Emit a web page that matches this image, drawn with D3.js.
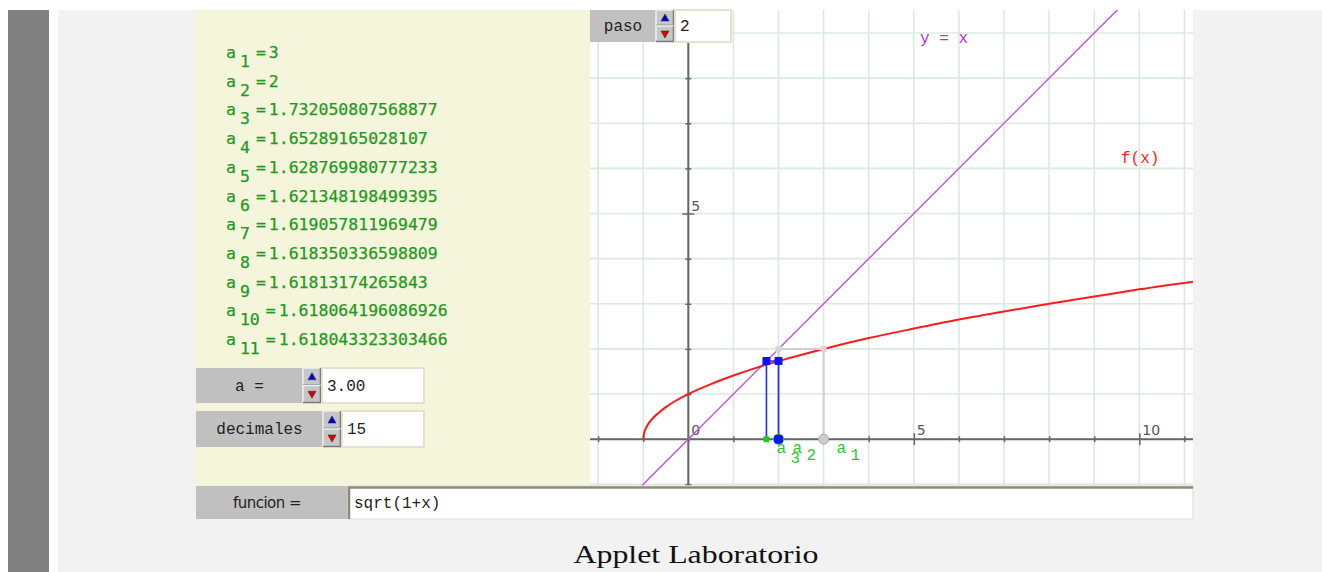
<!DOCTYPE html>
<html>
<head>
<meta charset="utf-8">
<script src="https://cdn.jsdelivr.net/npm/d3@7"></script>
<style>
  body { margin: 0; background: #fff; }
  svg { display: block; }
</style>
</head>
<body>
<div id="grafico"></div>
<script>
/**************************************************
 * Datos
***************************************************/
// sucesion a(n+1) = f(a(n)), como aparece en el panel
const indices = ["1", "2", "3", "4", "5", "6", "7", "8", "9", "10", "11"];
const valores = ["3", "2", "1.732050807568877", "1.65289165028107", "1.628769980777233",
    "1.621348198499395", "1.619057811969479", "1.618350336598809", "1.61813174265843",
    "1.618064196086926", "1.618043323303466"];

// curva f(x)
const curvaX = [-1, -0.98, -0.95, -0.9, -0.8, -0.65, -0.5, -0.3, 0, 0.5, 1, 1.5, 2, 3, 4, 5, 6, 7, 8, 9, 10, 11.2];
const curvaY = [0, 0.14, 0.22, 0.32, 0.45, 0.59, 0.71, 0.84, 1, 1.22, 1.41, 1.58, 1.73, 2, 2.24, 2.45, 2.65, 2.83, 3, 3.16, 3.32, 3.49];

// ejes
const ticksX = [-2, -1, 0, 1, 2, 3, 4, 5, 6, 7, 8, 9, 10, 11];
const ticksY = [-1, 0, 1, 2, 3, 4, 5, 6, 7, 8, 9];
const etiquetasX = [5, 10];
const etiquetasY = [5];

// controles
const paso = "2";
const valorA = "3.00";
const decimales = "15";
const funcion = "sqrt(1+x)";
const titulo = "Applet Laboratorio";

/**************************************************
 * SVG
***************************************************/
const width = 1322, height = 572;
const svg = d3.select("#grafico").append("svg")
    .attr("width", width).attr("height", height);

// fondo de la pagina
svg.append("rect").attr("x", 8).attr("y", 10).attr("width", 41).attr("height", height - 10).attr("fill", "#808080");
svg.append("rect").attr("x", 58).attr("y", 10).attr("width", width - 58).attr("height", height - 10).attr("fill", "#f2f2f2");

// panel izquierdo
svg.append("rect").attr("x", 196).attr("y", 10).attr("width", 394).attr("height", 477).attr("fill", "#f5f5dc");

/**************************************************
 * Escalas
***************************************************/
const gx0 = 590, gx1 = 1193, gy0 = 10, gy1 = 487;
const xScale = d3.scaleLinear().domain([-2.18, 11.19]).range([gx0, gx1]);
const yScale = d3.scaleLinear().domain([-1.06, 9.51]).range([gy1, gy0]);

svg.append("clipPath").attr("id", "clip")
    .append("rect").attr("x", gx0).attr("y", gy0).attr("width", gx1 - gx0).attr("height", gy1 - gy0);

const graf = svg.append("g").attr("clip-path", "url(#clip)");
graf.append("rect").attr("x", gx0).attr("y", gy0).attr("width", gx1 - gx0).attr("height", gy1 - gy0).attr("fill", "#fff");

// grilla
graf.append("g").selectAll("line").data(ticksX).join("line")
    .attr("x1", d => xScale(d)).attr("x2", d => xScale(d))
    .attr("y1", gy0).attr("y2", gy1)
    .attr("stroke", "#dbeae0").attr("stroke-width", 1.6);
graf.append("g").selectAll("line").data(ticksY).join("line")
    .attr("y1", d => yScale(d)).attr("y2", d => yScale(d))
    .attr("x1", gx0).attr("x2", gx1)
    .attr("stroke", "#dbeae0").attr("stroke-width", 1.6);

/**************************************************
 * Ejes
***************************************************/
const xAxis = d3.axisBottom(xScale).tickValues(ticksX).tickSize(3).tickFormat("");
const gX = graf.append("g").attr("transform", `translate(0,${yScale(0)})`).call(xAxis);
gX.select(".domain").remove();
gX.selectAll("line").attr("y1", d => etiquetasX.includes(d) ? -6 : -3)
    .attr("y2", d => etiquetasX.includes(d) ? 6 : 3)
    .attr("stroke", "#666").attr("stroke-width", 1.5);
graf.append("line").attr("x1", gx0).attr("x2", gx1).attr("y1", yScale(0)).attr("y2", yScale(0))
    .attr("stroke", "#666").attr("stroke-width", 2);

const yAxis = d3.axisLeft(yScale).tickValues(ticksY.filter(d => d !== 0)).tickSize(3).tickFormat("");
const gY = graf.append("g").attr("transform", `translate(${xScale(0)},0)`).call(yAxis);
gY.select(".domain").remove();
gY.selectAll("line").attr("x1", d => etiquetasY.includes(d) ? 6 : 3)
    .attr("x2", d => etiquetasY.includes(d) ? -6 : -3)
    .attr("stroke", "#666").attr("stroke-width", 1.5);
graf.append("line").attr("y1", gy0).attr("y2", gy1).attr("x1", xScale(0)).attr("x2", xScale(0))
    .attr("stroke", "#666").attr("stroke-width", 2);

const fuenteEje = "font-family: 'DejaVu Sans', sans-serif; font-size: 14px; fill: #555;";
graf.selectAll(".etqX").data([0, ...etiquetasX]).join("text")
    .attr("x", d => xScale(d) + 3).attr("y", yScale(0) - 4)
    .attr("style", fuenteEje).text(d => d);
graf.selectAll(".etqY").data(etiquetasY).join("text")
    .attr("x", xScale(0) + 3).attr("y", d => yScale(d) - 3)
    .attr("style", fuenteEje).text(d => d);

/**************************************************
 * Curvas
***************************************************/
const diag = [[-2.18, -2.18], [9.6, 9.6]];
graf.append("path").datum(diag)
    .attr("d", d3.line().x(d => xScale(d[0])).y(d => yScale(d[1])))
    .attr("fill", "none").attr("stroke", "#c254f5").attr("stroke-width", 1.5);

const curva = curvaX.map((x, i) => [x, curvaY[i]]);
graf.append("path").datum(curva)
    .attr("d", d3.line().x(d => xScale(d[0])).y(d => yScale(d[1])).curve(d3.curveMonotoneX))
    .attr("fill", "none").attr("stroke", "#ff1a1a").attr("stroke-width", 2);

graf.append("text").attr("x", 920).attr("y", 43).text("y = x")
    .attr("style", "font-family: 'Liberation Mono', monospace; font-size: 16px; fill: #b52ee8;");
graf.append("text").attr("x", 1121).attr("y", 163).text("f(x)")
    .attr("style", "font-family: 'Liberation Mono', monospace; font-size: 16px; fill: #ff2020;");

/**************************************************
 * Telaraña (2 pasos)
***************************************************/
const a = valores.map(Number);
const linea = d3.line().x(d => xScale(d[0])).y(d => yScale(d[1]));
const paso1 = [[a[0], 0], [a[0], a[1]], [a[1], a[1]], [a[1], 0]];
const paso2 = [[a[1], 0], [a[1], a[2]], [a[2], a[2]], [a[2], 0]];
graf.append("path").datum(paso1).attr("d", linea)
    .attr("fill", "none").attr("stroke", "#cfcfcf").attr("stroke-width", 2);
graf.append("path").datum(paso2).attr("d", linea)
    .attr("fill", "none").attr("stroke", "#2a2aff").attr("stroke-width", 1.6);

// puntos
const cuadrado = (g, cx, cy, s, color) => g.append("rect")
    .attr("x", cx - s / 2).attr("y", cy - s / 2).attr("width", s).attr("height", s)
    .attr("rx", 1).attr("fill", color);

[[a[0], a[1]], [a[1], a[1]]].forEach(p => cuadrado(graf, xScale(p[0]), yScale(p[1]), 6, "#d6d6d6"));
graf.append("circle").attr("cx", xScale(a[0])).attr("cy", yScale(0)).attr("r", 5)
    .attr("fill", "#cccccc").attr("stroke", "#a8a8a8").attr("stroke-width", 1);
[[a[1], a[2]], [a[2], a[2]]].forEach(p => cuadrado(graf, xScale(p[0]), yScale(p[1]), 8, "#0a14ff"));
cuadrado(graf, xScale(a[2]), yScale(0), 6, "#22cc22");
graf.append("circle").attr("cx", xScale(a[1])).attr("cy", yScale(0)).attr("r", 5.5).attr("fill", "#33bb33");
cuadrado(graf, xScale(a[1]), yScale(0), 9, "#0a14ff").attr("rx", 3);

// etiquetas a_n (desplazamiento horizontal de cada etiqueta respecto a su punto)
const fuenteA = "font-family: 'Liberation Mono', monospace; font-size: 16px; fill: #2ec52e;";
const despl = [13, 14, 10];
[0, 1, 2].forEach(i => {
    const x0 = xScale(a[i]) + despl[i];
    const t = graf.append("text").attr("x", x0).attr("y", 453).attr("style", fuenteA);
    t.append("tspan").text("a");
    t.append("tspan").attr("x", x0 + 14).attr("dy", i === 2 ? 10 : 7).text(indices[i]);
});

/**************************************************
 * Panel de valores
***************************************************/
const fuenteSuc = "font-family: 'DejaVu Sans Mono', monospace; font-size: 16.5px; fill: #1f991f; stroke: #1f991f; stroke-width: 0.25px;";
const filas = svg.append("g").selectAll("text").data(valores).join("text")
    .attr("x", 226).attr("y", (d, i) => 58 + i * 28.7).attr("style", fuenteSuc);
filas.append("tspan").text("a");
filas.append("tspan").attr("dx", 4).attr("dy", 9).text((d, i) => indices[i]);
filas.append("tspan").attr("dx", 6).attr("dy", -9).text("=");
filas.append("tspan").attr("dx", 3).text(d => d);

/**************************************************
 * Controles
***************************************************/
const fuenteCtl = "font-family: 'Liberation Mono', monospace; font-size: 16px; fill: #222;";

const spinner = (x, y, h) => {
    const g = svg.append("g");
    const hb = h / 2;
    [0, 1].forEach(k => {
        const by = y + k * hb;
        g.append("rect").attr("x", x).attr("y", by).attr("width", 18).attr("height", hb)
            .attr("fill", "#c6c6c6");
        g.append("path").attr("d", `M${x},${by + hb} V${by} H${x + 18}`).attr("fill", "none")
            .attr("stroke", "#f0f0f0").attr("stroke-width", 1.5);
        g.append("path").attr("d", `M${x},${by + hb - 0.5} H${x + 17.5} V${by}`).attr("fill", "none")
            .attr("stroke", "#7a7a7a").attr("stroke-width", 1.5);
        const cx = x + 9, cy = by + hb / 2;
        const tri = k === 0
            ? `M${cx - 4},${cy + 3} L${cx},${cy - 4} L${cx + 4},${cy + 3} Z`
            : `M${cx - 4},${cy - 3} L${cx},${cy + 4} L${cx + 4},${cy - 3} Z`;
        g.append("path").attr("d", tri).attr("fill", k === 0 ? "#0000e0" : "#e00000")
            .attr("stroke", "#333").attr("stroke-width", 0.6);
    });
};

const control = (x, y, wl, wf, h, etiqueta, valor) => {
    svg.append("rect").attr("x", x).attr("y", y).attr("width", wl).attr("height", h).attr("fill", "#c0c0c0");
    svg.append("text").attr("x", x + wl / 2).attr("y", y + h / 2 + 5)
        .attr("text-anchor", "middle").attr("style", fuenteCtl).text(etiqueta);
    spinner(x + wl, y, h);
    const fx = x + wl + 19;
    svg.append("rect").attr("x", fx).attr("y", y).attr("width", wf).attr("height", h)
        .attr("fill", "#fff").attr("stroke", "#e2e2cf").attr("stroke-width", 2);
    svg.append("text").attr("x", fx + 5).attr("y", y + h / 2 + 5).attr("style", fuenteCtl).text(valor);
};

control(196, 368, 107, 102, 35, "a =", valorA);
control(196, 411, 127, 82, 36, "decimales", decimales);
control(590, 10, 66, 56, 32, "paso", paso);

// funcion
svg.append("rect").attr("x", 196).attr("y", 486).attr("width", 152).attr("height", 33).attr("fill", "#c0c0c0");
svg.append("text").attr("x", 267).attr("y", 508).attr("text-anchor", "middle")
    .attr("style", "font-family: 'DejaVu Sans', sans-serif; font-size: 15px; fill: #222; letter-spacing: -0.5px;")
    .text("funcion =");
svg.append("rect").attr("x", 348).attr("y", 486).attr("width", 845).attr("height", 33)
    .attr("fill", "#fff").attr("stroke", "#e6e6d8").attr("stroke-width", 1.5);
svg.append("path").attr("d", "M349,519 V487.5 H1193").attr("fill", "none")
    .attr("stroke", "#8c8a80").attr("stroke-width", 2.5);
svg.append("text").attr("x", 354).attr("y", 508).attr("style", fuenteCtl).text(funcion);

/**************************************************
 * Titulo
***************************************************/
svg.append("text").attr("x", 696).attr("y", 563).attr("text-anchor", "middle")
    .attr("textLength", 245).attr("lengthAdjust", "spacingAndGlyphs")
    .attr("style", "font-family: 'Liberation Serif', serif; font-size: 26px; fill: #111;")
    .text(titulo);
</script>
</body>
</html>
